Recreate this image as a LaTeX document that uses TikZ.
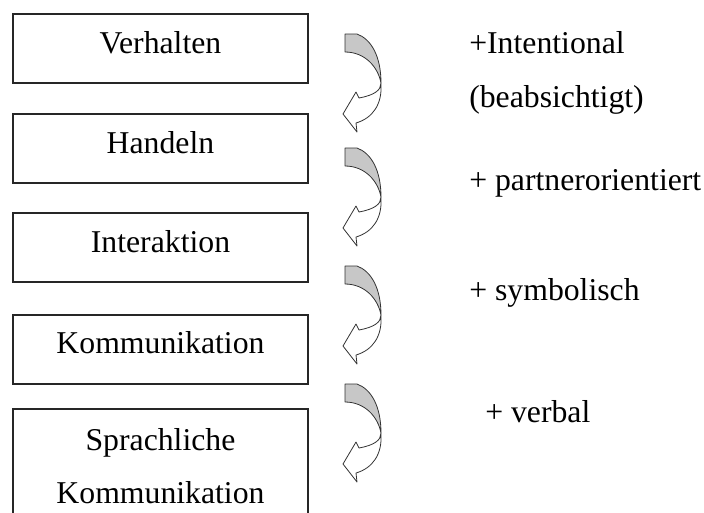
\documentclass[tikz,border=0pt]{standalone}
\usepackage{fontspec}
\setmainfont{Liberation Serif}
\begin{document}
\begin{tikzpicture}[x=0.75pt,y=-0.75pt,
  box/.style={draw=black!85,line width=0.9pt,minimum width=295*0.75pt,minimum height=69*0.75pt,inner sep=0pt,outer sep=0pt},
  lbl/.style={inner sep=0pt,font=\fontsize{23.8}{28}\selectfont},
  arrline/.style={draw=black!80,line width=0.6pt,line join=round},
  ]
\clip (0,0) rectangle (704,512);
\useasboundingbox (0,0) rectangle (704,512);
% boxes
\node[box] (b1) at (160.5,48.5) {};
\node[box] (b2) at (160.5,148.5) {};
\node[box] (b3) at (160.5,247.5) {};
\node[box] (b4) at (160.5,349.5) {};
\node[box,minimum height=110*0.75pt] (b5) at (160.5,464) {};
% box texts
\node[lbl,anchor=base] (t1) at (160.5,53) {Verhalten};
\node[lbl,anchor=base] (t2) at (160.5,153) {Handeln};
\node[lbl,anchor=base] (t3) at (160.5,252) {Interaktion};
\node[lbl,anchor=base] (t4) at (160.5,353) {Kommunikation};
\node[lbl,anchor=base] (t5a) at (160.5,450) {Sprachliche};
\node[lbl,anchor=base] (t5b) at (160.5,503) {Kommunikation};
% right texts
\node[lbl,anchor=base west] (r1) at (469,53) {+Intentional};
\node[lbl,anchor=base west] (r1b) at (469,107) {(beabsichtigt)};
\node[lbl,anchor=base west] (r2) at (469,190) {+ partnerorientiert};
\node[lbl,anchor=base west] (r3) at (469,300) {+ symbolisch};
\node[lbl,anchor=base west] (r4) at (485,422) {+ verbal};
% curved arrows
\foreach \t in {34,148,266,384}{
\begin{scope}[shift={(345,\t)}]
  \filldraw[arrline,fill=white] (36,49) .. controls (36,56) and (30,61) .. (14,64)
     -- (11,58) -- (-2,80) -- (12,98) -- (11,89)
     .. controls (28,84) and (37,70) .. (36,51) -- cycle;
  \filldraw[arrline,fill=black!22] (0,0) -- (12,0) .. controls (26,5) and (36,22) .. (36,49)
     .. controls (33,33) and (20,18) .. (0,18) -- cycle;
\end{scope}
}
\end{tikzpicture}
\end{document}
